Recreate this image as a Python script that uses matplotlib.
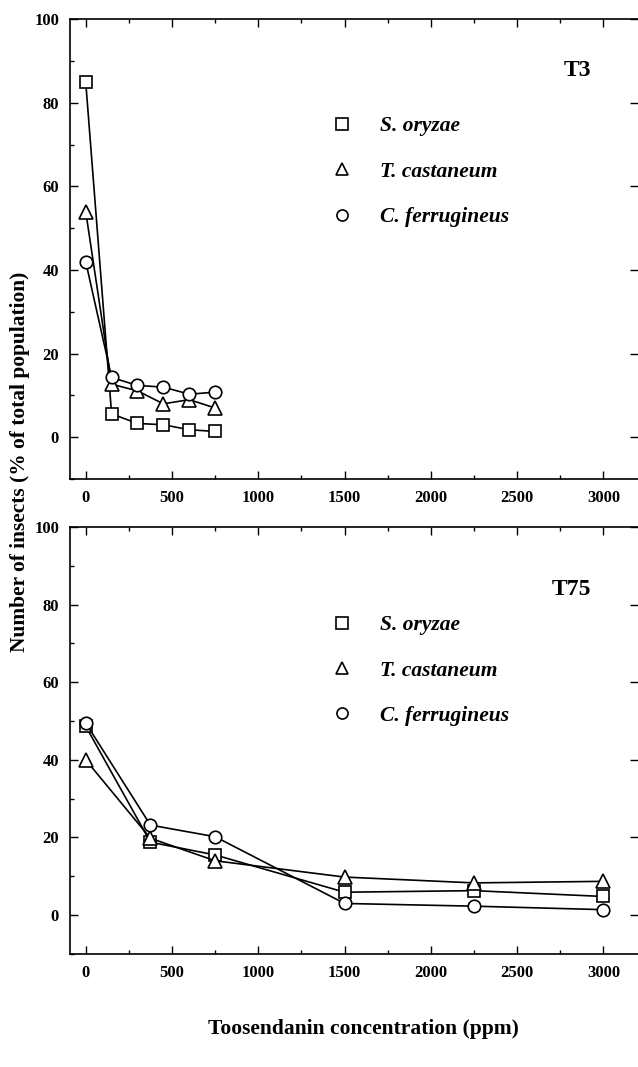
import matplotlib.pyplot as plt
from matplotlib.lines import Line2D
from matplotlib.ticker import MultipleLocator

plt.rcParams['font.family'] = ['Liberation Serif', 'DejaVu Serif']
plt.rcParams['font.weight'] = 'bold'

species = ['S. oryzae', 'T. castaneum', 'C. ferrugineus']
markers = ['s', '^', 'o']

# T3
conc_t3 = [0, 150, 300, 450, 600, 750]
oryzae_t3 = [85, 5.6, 3.3, 3.0, 1.8, 1.4]
castaneum_t3 = [54, 12.7, 11.1, 8.0, 9.0, 7.0]
ferrugineus_t3 = [42, 14.3, 12.4, 12.0, 10.3, 10.8]

# T75
conc_t75 = [0, 375, 750, 1500, 2250, 3000]
oryzae_t75 = [48.7, 18.8, 15.5, 5.9, 6.3, 4.8]
castaneum_t75 = [40.0, 19.8, 14.0, 9.8, 8.3, 8.7]
ferrugineus_t75 = [49.5, 23.2, 20.2, 3.0, 2.3, 1.4]

fig = plt.figure(figsize=(6.38, 10.67), dpi=100)
ax1 = fig.add_axes([0.110, 0.551, 0.890, 0.431])
ax2 = fig.add_axes([0.110, 0.106, 0.890, 0.400])


def panel(ax, x, series, tag, tag_y, leg_y):
    for y, m in zip(series, markers):
        ax.plot(x, y, color='black', lw=1.2, marker=m, ms=9 if m != '^' else 10,
                mfc='white', mec='black', mew=1.2)
    ax.set_xlim(-90, 3200)
    ax.set_ylim(-10, 100)
    ax.xaxis.set_major_locator(MultipleLocator(500))
    ax.xaxis.set_minor_locator(MultipleLocator(250))
    ax.yaxis.set_major_locator(MultipleLocator(20))
    ax.yaxis.set_minor_locator(MultipleLocator(10))
    ax.tick_params(which='both', direction='in', top=True, right=True,
                   labelsize=12, width=1.0)
    ax.tick_params(which='major', length=6, pad=8)
    ax.tick_params(which='minor', length=3, right=False)
    for lab in ax.get_xticklabels() + ax.get_yticklabels():
        lab.set_fontweight('bold')
    for sp in ax.spines.values():
        sp.set_linewidth(1.2)
    ax.spines['right'].set_visible(False)
    ax.text(0.917, tag_y, tag, transform=ax.transAxes, ha='right', va='center',
            fontsize=17, fontweight='bold')
    handles = [Line2D([], [], ls='none', marker=m, ms=8, mfc='white',
                      mec='black', mew=1.2) for m in markers]
    ax.legend(handles, species, loc='upper left',
              bbox_to_anchor=(0.46, leg_y), frameon=False, borderpad=0,
              borderaxespad=0, handlelength=1.0, handletextpad=1.25,
              labelspacing=1.18,
              prop={'style': 'italic', 'weight': 'bold', 'size': 15.5})


panel(ax1, conc_t3, [oryzae_t3, castaneum_t3, ferrugineus_t3], 'T3', 0.889, 0.789)
panel(ax2, conc_t75, [oryzae_t75, castaneum_t75, ferrugineus_t75], 'T75', 0.853, 0.794)

fig.text(0.031, 0.567, 'Number of insects (% of total population)',
         rotation=90, ha='center', va='center', fontsize=15.4, fontweight='bold')
fig.text(0.57, 0.036, 'Toosendanin concentration (ppm)', ha='center',
         va='center', fontsize=15.5, fontweight='bold')

fig.savefig('out.png', dpi=100)
